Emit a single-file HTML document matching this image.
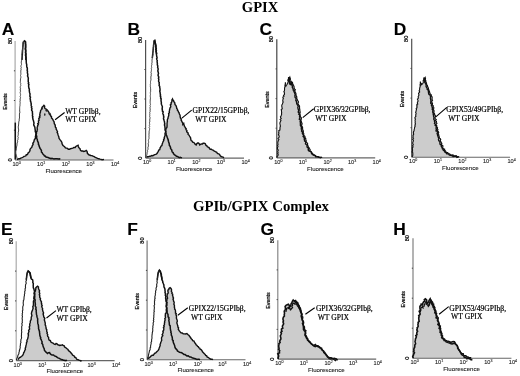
<!DOCTYPE html>
<html><head><meta charset="utf-8"><style>
html,body{margin:0;padding:0;background:#fff;width:520px;height:376px;overflow:hidden}
svg{display:block;will-change:transform;filter:blur(0.3px)}
.lt{font-family:"Liberation Sans",sans-serif;font-weight:bold;font-size:17.4px;fill:#000;stroke:#000;stroke-width:0.1px}
.ti{font-family:"Liberation Serif",serif;font-weight:bold;fill:#000}
.sm{font-family:"Liberation Sans",sans-serif;fill:#000;stroke:#000;stroke-width:0.2px}
.tk{font-family:"Liberation Sans",sans-serif;fill:#222;stroke:#222;stroke-width:0.1px}
.an{font-family:"Liberation Serif",serif;font-size:7.6px;fill:#000;stroke:#000;stroke-width:0.2px}
</style></head><body>
<svg width="520" height="376" viewBox="0 0 520 376">
<rect width="520" height="376" fill="#fff"/>
<text class="ti" x="241.8" y="12.2" font-size="14.6">GPIX</text>
<text class="ti" x="192.9" y="210.9" font-size="14.8">GPIb/GPIX Complex</text>

<text class="lt" x="1.8" y="34.8">A</text>
<polygon points="16.9,160.0 16.9,159.5 22.5,157.5 27.3,154.5 30.0,150.5 32.1,146.0 34.9,139.0 37.0,130.0 38.5,122.0 40.0,114.0 41.0,110.0 42.2,107.0 43.9,105.3 45.0,108.6 46.2,109.2 47.8,110.8 49.0,112.5 50.6,115.9 52.3,118.7 54.0,121.5 55.1,124.8 56.2,128.0 57.9,134.2 59.0,138.3 60.8,140.6 62.5,144.6 64.8,146.9 66.5,148.1 68.3,149.2 70.6,148.7 72.9,148.1 75.2,147.5 76.9,145.8 78.1,145.2 79.2,148.1 81.5,151.0 83.8,151.5 86.2,150.4 87.9,153.8 89.6,155.0 91.9,155.6 94.2,156.7 96.5,157.9 98.8,158.7 101.2,159.3 104.0,159.6 104.0,160.0" fill="#cccccc" stroke="none"/>
<line x1="15.1" y1="41.0" x2="15.1" y2="160.0" stroke="#aaa" stroke-width="1.2"/>
<line x1="15.1" y1="160.0" x2="113.5" y2="160.0" stroke="#666" stroke-width="1.1"/>
<line x1="13.9" y1="130.2" x2="15.1" y2="130.2" stroke="#444" stroke-width="1"/>
<line x1="13.9" y1="100.5" x2="15.1" y2="100.5" stroke="#444" stroke-width="1"/>
<line x1="13.9" y1="70.8" x2="15.1" y2="70.8" stroke="#444" stroke-width="1"/>
<polyline points="16.9,159.5 17.8,159.1 18.7,158.7 19.8,158.8 20.6,158.1 21.6,157.9 22.5,157.5 23.3,157.0 24.0,156.4 25.0,156.1 25.9,155.8 26.3,154.7 27.3,154.5 27.9,153.7 28.2,152.8 29.0,152.2 29.6,151.4 30.0,150.5 30.0,149.4 30.5,148.6 31.3,147.8 32.0,147.0 32.1,146.0 32.7,145.2 33.1,144.4 32.8,143.3 33.4,142.5 33.9,141.7 34.1,140.7 34.3,139.8 34.9,139.0 35.5,138.2 35.4,137.2 35.4,136.3 35.7,135.4 36.1,134.5 36.4,133.7 36.6,132.8 36.4,131.8 37.2,131.0 37.0,130.0 37.4,129.2 37.1,128.2 37.2,127.3 37.6,126.4 37.6,125.5 38.3,124.7 37.7,123.7 38.6,122.9 38.5,122.0 38.4,121.1 39.1,120.3 38.9,119.3 38.8,118.4 39.8,117.6 39.4,116.7 40.1,115.9 39.7,114.9 40.0,114.0 40.0,112.9 40.5,112.0 40.5,110.9 41.0,110.0 41.5,109.0 42.0,108.1 42.2,107.0 43.1,106.2 43.9,105.3 44.7,106.3 44.5,107.5 45.0,108.6 46.2,109.2 47.1,109.9 47.8,110.8 48.4,111.6 49.0,112.5 49.1,113.5 49.5,114.3 50.5,114.9 50.6,115.9 51.5,116.6 51.5,117.9 52.3,118.7 52.9,119.6 53.3,120.7 54.0,121.5 54.2,122.6 54.3,123.8 55.1,124.8 55.2,126.0 55.4,127.1 56.2,128.0 56.1,129.0 56.6,129.8 57.0,130.6 57.5,131.5 57.1,132.5 57.7,133.3 57.9,134.2 58.2,135.2 58.6,136.2 58.9,137.2 59.0,138.3 59.6,139.1 60.1,139.9 60.8,140.6 61.4,141.5 61.9,142.5 62.0,143.6 62.5,144.6 63.0,145.6 64.0,146.2 64.8,146.9 65.4,147.9 66.5,148.1 67.5,148.4 68.3,149.2 69.5,149.2 70.6,148.7 71.8,148.4 72.9,148.1 73.9,147.4 75.2,147.5 75.8,146.4 76.9,145.8 78.1,145.2 78.3,146.2 78.6,147.2 79.2,148.1 80.0,148.6 80.2,149.7 80.7,150.5 81.5,151.0 82.7,151.0 83.8,151.5 85.1,151.2 86.2,150.4 86.9,151.1 87.3,152.0 87.2,153.1 87.9,153.8 88.5,154.7 89.6,155.0 90.7,155.5 91.9,155.6 93.0,156.2 94.2,156.7 95.3,157.4 96.5,157.9 97.6,158.4 98.8,158.7 100.0,159.1 101.2,159.3 102.1,159.8 103.1,159.5 104.0,159.6" fill="none" stroke="#111" stroke-width="1.4" stroke-linejoin="miter" stroke-miterlimit="3"/>
<ellipse cx="46.6" cy="110.6" rx="1.3" ry="1.1" fill="#222"/>
<ellipse cx="44.8" cy="114.6" rx="0.7" ry="1.4" fill="#222"/>
<ellipse cx="50.0" cy="114.1" rx="0.8" ry="1.3" fill="#222"/>
<ellipse cx="42.0" cy="108.5" rx="0.8" ry="1.2" fill="#222"/>
<polyline points="15.3,122.6 15.3,159.5" fill="none" stroke="#111" stroke-width="1.5" stroke-linejoin="miter"/>
<polyline points="22.0,60.0 22.6,50.0 23.3,42.0 24.4,40.9 25.5,42.0 25.7,52.0 26.1,60.0" fill="none" stroke="#111" stroke-width="1.5" stroke-linejoin="miter"/>
<polyline points="17.5,159.0 16.8,158.1 16.9,156.9 16.2,156.0 16.4,155.0 15.8,154.0 15.8,153.0 15.7,152.0 15.8,151.0 16.2,150.0 16.3,149.0 16.3,148.0 16.6,147.0 16.7,146.0 17.1,145.0 16.9,144.0 17.2,143.0 17.5,142.1 17.7,141.2 17.5,140.3 18.0,139.4 18.0,138.5 18.3,137.6 17.8,136.6 18.1,135.7 18.2,134.8 18.4,133.9 18.1,132.9 18.4,132.0 18.5,131.0 18.7,130.0 18.5,129.0 18.3,128.0 18.3,127.0 18.3,126.0 18.7,125.0 18.5,124.0 18.9,123.0 18.6,122.0 19.2,121.0 19.2,120.0 19.2,119.0 19.5,118.0 19.5,117.0 19.4,116.0 19.5,115.0 19.4,114.0 19.7,113.0 20.0,112.0 19.5,111.0 19.8,110.0 19.6,109.1 19.7,108.2 19.7,107.3 19.8,106.4 20.0,105.5 20.0,104.5 20.1,103.6 20.2,102.7 19.9,101.8 20.2,100.9 20.2,100.0 20.1,99.1 20.4,98.2 20.5,97.3 20.1,96.4 20.5,95.5 20.6,94.6 20.4,93.6 20.1,92.7 20.5,91.8 20.3,90.9 20.6,90.0 20.1,89.1 20.6,88.2 20.2,87.3 20.4,86.4 20.8,85.5 20.6,84.5 20.8,83.6 20.3,82.7 20.4,81.8 20.3,80.9 20.6,80.0 20.4,79.1 20.7,78.2 20.9,77.3 20.8,76.4 20.5,75.5 20.8,74.6 20.9,73.7 20.8,72.8 20.8,71.9 20.8,71.0 20.9,70.1 21.2,69.2 20.9,68.3 21.3,67.4 20.9,66.5 21.0,65.6 21.5,64.7 21.5,63.8 21.2,62.9 21.4,62.0 21.4,61.1 21.7,60.2 21.8,59.3 21.6,58.4 22.0,57.5 22.1,56.6 22.1,55.6 21.8,54.7 22.0,53.8 22.2,52.9 22.2,52.0 22.3,51.0 22.3,50.0 22.8,49.0 22.5,48.0 22.7,47.0 22.9,46.0 23.2,45.0 22.9,44.0 23.0,43.0 23.3,42.0 24.4,40.8" fill="none" stroke="#444" stroke-width="1.0" stroke-linejoin="miter" stroke-miterlimit="3"/>
<polyline points="24.4,40.8 25.5,42.0 25.3,43.0 25.5,44.0 25.7,45.0 25.5,46.0 25.7,47.0 25.4,48.0 25.2,49.0 25.6,50.0 25.8,51.0 25.5,52.0 25.5,53.0 26.0,54.0 25.4,55.0 25.8,56.0 25.8,57.0 26.1,57.9 25.7,58.9 26.0,59.8 26.3,60.7 26.2,61.6 26.3,62.6 26.4,63.5 26.7,64.4 26.7,65.4 26.7,66.3 26.9,67.3 27.3,68.2 27.4,69.1 27.1,70.1 27.5,71.0 27.4,72.0 27.4,73.0 27.7,74.0 27.8,75.0 27.5,76.0 28.0,77.0 28.3,78.0 28.3,79.0 28.2,80.0 28.3,80.9 28.2,81.8 28.7,82.7 28.3,83.7 28.9,84.5 28.6,85.5 28.6,86.4 28.8,87.3 28.9,88.2 29.4,89.1 29.3,90.0 29.3,90.9 29.5,91.8 29.6,92.7 30.0,93.6 30.0,94.5 29.9,95.5 29.9,96.4 30.5,97.2 30.1,98.2 30.2,99.1 30.5,100.0 30.4,101.0 30.9,102.0 31.0,103.0 31.3,104.0 31.1,105.0 31.3,106.0 31.8,106.9 31.4,107.8 32.0,108.7 31.6,109.6 31.7,110.5 32.4,111.4 32.4,112.3 32.4,113.2 32.6,114.1 32.5,115.0 32.4,115.9 32.9,116.8 32.6,117.7 32.9,118.6 33.0,119.5 33.4,120.4 33.6,121.3 33.8,122.2 34.0,123.1 33.8,124.0 33.7,124.9 34.2,125.8 34.6,126.6 34.9,127.5 35.0,128.4 35.1,129.3 35.3,130.2 35.2,131.1 35.5,132.0 35.8,132.9 36.0,133.9 35.8,134.9 36.5,135.7 36.8,136.7 36.6,137.7 36.8,138.6 37.3,139.5 37.4,140.5 37.7,141.4 38.1,142.2 38.5,143.1 38.3,144.1 38.8,144.9 39.1,145.8 39.3,146.7 39.8,147.5 40.0,148.5 40.7,149.2 41.2,150.0 41.5,150.9 41.4,151.9 42.2,152.6 42.5,153.5 43.1,154.3 43.9,154.9 44.4,155.8 45.4,156.2 46.0,157.0 47.0,157.2 48.1,157.4 49.0,158.0 50.0,158.3 51.0,158.7 52.0,158.2 53.0,158.6 54.0,159.0 55.0,158.8 56.1,158.8 57.1,158.8 58.2,159.0 59.3,158.8 60.3,159.2" fill="none" stroke="#111" stroke-width="1.5" stroke-linejoin="miter" stroke-miterlimit="3"/>
<text class="sm" font-size="5.6" transform="translate(11.5 41.0) rotate(-90)" text-anchor="middle">80</text>
<text class="sm" font-size="5.6" transform="translate(11.5 160.0) rotate(-90)" text-anchor="middle">0</text>
<text class="sm" font-size="5.4" transform="translate(6.9 101.5) rotate(-90)" text-anchor="middle">Events</text>
<text class="tk" font-size="5.6" x="12.5" y="166.0">10<tspan font-size="3.6" dy="-2">0</tspan></text>
<text class="tk" font-size="5.6" x="37.1" y="166.0">10<tspan font-size="3.6" dy="-2">1</tspan></text>
<text class="tk" font-size="5.6" x="61.7" y="166.0">10<tspan font-size="3.6" dy="-2">2</tspan></text>
<text class="tk" font-size="5.6" x="86.3" y="166.0">10<tspan font-size="3.6" dy="-2">3</tspan></text>
<text class="tk" font-size="5.6" x="110.9" y="166.0">10<tspan font-size="3.6" dy="-2">4</tspan></text>
<text class="tk" font-size="6.1" x="63.7" y="172.6" text-anchor="middle">Fluorescence</text>
<text class="an" x="65.2" y="113.6">WT GPIb&#946;,</text>
<text class="an" x="65.2" y="122.2">WT GPIX</text>
<line x1="55.1" y1="119.8" x2="64.6" y2="112.5" stroke="#000" stroke-width="1.1"/>
<text class="lt" x="127.4" y="34.8">B</text>
<polygon points="146.5,158.1 146.5,157.5 150.0,156.3 153.8,155.2 157.3,153.0 160.0,148.7 162.1,144.6 164.2,137.7 165.6,132.1 167.0,124.0 168.4,116.5 169.8,109.0 171.0,103.0 172.5,99.0 173.5,100.5 174.8,103.9 176.6,107.5 178.4,111.9 180.1,116.4 181.9,121.7 182.8,124.4 183.7,123.5 185.5,128.0 187.3,132.4 189.1,135.1 190.8,139.5 192.6,142.2 194.4,143.1 196.2,144.9 198.0,142.8 199.7,144.9 202.4,144.0 204.2,143.1 206.9,145.8 209.5,148.5 213.1,150.2 215.8,152.0 218.5,153.8 221.1,156.5 223.8,158.0 223.8,158.1" fill="#cccccc" stroke="none"/>
<line x1="145.6" y1="40.0" x2="145.6" y2="158.1" stroke="#505050" stroke-width="1.2"/>
<line x1="145.6" y1="158.1" x2="244.0" y2="158.1" stroke="#666" stroke-width="1.1"/>
<line x1="144.4" y1="128.6" x2="145.6" y2="128.6" stroke="#444" stroke-width="1"/>
<line x1="144.4" y1="99.0" x2="145.6" y2="99.0" stroke="#444" stroke-width="1"/>
<line x1="144.4" y1="69.5" x2="145.6" y2="69.5" stroke="#444" stroke-width="1"/>
<polyline points="146.5,157.5 147.2,156.8 148.2,156.8 149.1,156.4 150.0,156.3 150.9,156.0 151.8,155.5 152.9,155.8 153.8,155.2 154.7,154.7 155.7,154.3 156.6,153.9 157.3,153.0 157.8,152.1 158.4,151.3 158.6,150.2 159.7,149.7 160.0,148.7 160.1,147.7 160.7,147.0 161.0,146.1 161.9,145.5 162.1,144.6 162.3,143.7 162.6,142.9 162.9,142.0 163.4,141.2 163.8,140.4 163.6,139.4 164.3,138.7 164.2,137.7 164.6,136.8 164.8,135.9 165.3,135.0 164.9,133.9 165.2,133.0 165.6,132.1 165.7,131.2 165.7,130.3 165.9,129.4 166.0,128.5 166.8,127.7 167.0,126.8 167.0,125.9 167.1,124.9 167.0,124.0 167.1,123.0 167.2,122.1 167.4,121.2 167.3,120.2 167.5,119.2 168.0,118.4 168.1,117.4 168.4,116.5 168.7,115.6 168.8,114.6 168.6,113.6 169.4,112.8 169.2,111.8 169.4,110.9 169.5,109.9 169.8,109.0 169.9,108.0 170.6,107.1 170.8,106.1 170.3,104.9 171.2,104.1 171.0,103.0 171.6,102.1 172.0,101.1 171.9,99.9 172.5,99.0 172.7,99.9 173.5,100.5 173.8,101.4 174.2,102.2 174.9,102.9 174.8,103.9 175.2,104.8 176.0,105.6 176.3,106.5 176.6,107.5 176.7,108.5 177.5,109.2 177.4,110.2 178.2,111.0 178.4,111.9 179.1,112.7 179.2,113.7 179.7,114.5 180.1,115.4 180.1,116.4 180.3,117.3 180.5,118.2 181.3,119.0 181.1,120.0 181.6,120.8 181.9,121.7 182.5,122.5 182.8,123.4 182.8,124.4 183.7,123.5 183.9,124.5 184.1,125.4 184.5,126.3 185.1,127.1 185.5,128.0 186.2,128.7 186.0,129.8 186.9,130.5 186.7,131.6 187.3,132.4 188.2,133.1 188.1,134.4 189.1,135.1 189.5,136.0 190.0,136.8 190.5,137.6 190.7,138.5 190.8,139.5 191.2,140.5 192.2,141.2 192.6,142.2 193.7,142.3 194.4,143.1 195.1,144.2 196.2,144.9 196.6,144.0 197.2,143.3 198.0,142.8 198.8,143.3 199.4,144.0 199.7,144.9 200.5,144.4 201.4,143.9 202.4,144.0 203.1,143.2 204.2,143.1 205.1,143.5 205.6,144.4 206.0,145.4 206.9,145.8 207.3,146.7 208.2,147.2 209.1,147.6 209.5,148.5 210.2,149.3 211.4,149.2 212.2,149.8 213.1,150.2 214.0,150.8 214.9,151.3 215.8,152.0 216.8,152.4 217.4,153.5 218.5,153.8 219.4,154.2 219.9,155.1 220.3,155.9 221.1,156.5 222.1,156.8 223.1,157.1 223.8,158.0" fill="none" stroke="#111" stroke-width="1.4" stroke-linejoin="miter" stroke-miterlimit="3"/>
<polyline points="152.3,58.0 153.2,49.6 154.0,41.0 154.8,40.4 155.7,45.0 156.4,54.0" fill="none" stroke="#111" stroke-width="1.5" stroke-linejoin="miter"/>
<polyline points="146.0,158.0 146.1,156.8 146.6,155.6 146.9,154.6 147.1,153.5 147.2,152.5 147.6,151.5 147.4,150.6 147.9,149.7 148.1,148.8 147.8,147.8 148.2,146.9 148.4,146.0 148.4,145.1 148.3,144.1 148.2,143.2 148.7,142.3 148.6,141.4 148.4,140.4 148.6,139.5 149.0,138.6 149.0,137.7 148.9,136.8 149.1,135.8 148.9,134.9 149.1,134.0 149.0,133.0 149.2,132.1 149.1,131.2 149.4,130.3 149.6,129.3 149.6,128.4 149.1,127.4 149.7,126.5 149.3,125.6 149.7,124.7 149.6,123.7 149.4,122.8 149.8,121.9 149.8,120.9 149.7,120.0 149.8,119.1 150.0,118.2 150.0,117.3 149.6,116.4 149.8,115.5 149.7,114.5 149.9,113.6 149.6,112.7 150.2,111.8 149.9,110.9 150.3,110.0 150.1,109.1 150.1,108.2 150.0,107.3 150.4,106.4 150.0,105.5 150.5,104.6 150.3,103.6 150.2,102.7 150.2,101.8 150.2,100.9 150.3,100.0 150.3,99.1 150.5,98.2 150.4,97.3 150.3,96.4 150.3,95.4 150.5,94.5 150.4,93.6 150.3,92.7 150.6,91.8 150.6,90.9 150.6,90.0 150.7,89.1 150.5,88.2 150.5,87.2 150.3,86.3 150.4,85.4 150.3,84.5 150.6,83.6 150.5,82.6 150.5,81.7 150.7,80.8 151.0,79.8 150.9,78.9 150.9,77.9 150.8,77.0 151.1,76.0 151.3,75.1 151.1,74.2 151.4,73.2 150.9,72.3 151.3,71.3 151.4,70.4 151.5,69.4 151.3,68.5 151.7,67.6 151.5,66.6 151.5,65.7 151.9,64.7 151.7,63.8 152.0,62.8 152.1,61.9 152.0,60.9 152.0,60.0 152.2,59.0 152.3,58.1 152.3,57.1 152.7,56.2 152.8,55.3 153.0,54.3 152.7,53.4 152.8,52.4 153.1,51.5 153.4,50.6 153.2,49.6 153.3,48.6 153.2,47.7 153.7,46.8 153.4,45.8 153.6,44.8 153.9,43.9 153.6,42.9 153.9,42.0 154.0,41.0 154.8,40.3" fill="none" stroke="#444" stroke-width="1.0" stroke-linejoin="miter" stroke-miterlimit="3"/>
<polyline points="154.8,40.3 154.7,41.3 155.1,42.2 155.2,43.1 155.6,44.1 155.7,45.0 156.0,45.9 155.9,46.8 155.9,47.8 156.3,48.6 155.7,49.6 156.4,50.5 156.0,51.4 156.3,52.3 156.7,53.2 156.4,54.2 156.6,55.1 156.6,56.0 156.9,56.9 157.1,57.8 156.6,58.8 156.9,59.7 157.3,60.6 157.1,61.6 157.2,62.5 157.4,63.5 157.3,64.4 157.5,65.3 157.8,66.3 157.6,67.2 157.9,68.1 158.2,69.0 158.0,70.0 157.8,70.9 158.1,71.8 158.3,72.7 158.5,73.6 158.1,74.6 158.1,75.5 158.5,76.3 158.8,77.2 158.4,78.2 158.8,79.1 158.7,80.0 158.6,80.9 158.7,81.8 159.3,82.7 159.1,83.6 159.3,84.5 159.1,85.5 159.7,86.4 159.7,87.3 159.9,88.2 160.0,89.2 160.1,90.1 159.7,91.1 160.0,92.0 160.2,93.0 160.2,94.0 160.6,95.0 160.2,96.0 160.8,97.0 160.6,98.0 161.2,99.0 161.0,100.0 161.1,100.9 161.2,101.8 161.4,102.7 161.3,103.6 161.5,104.5 161.8,105.3 162.3,106.2 162.3,107.1 162.3,108.0 162.1,109.0 162.4,110.0 162.4,111.1 163.2,111.9 162.8,113.0 163.0,114.0 163.5,115.0 163.5,116.0 163.9,117.0 163.5,118.0 163.6,119.0 164.0,120.0 164.2,121.0 164.6,122.0 164.5,123.0 164.9,123.9 164.4,124.9 164.8,125.8 164.9,126.8 165.0,127.7 165.1,128.7 165.0,129.7 165.3,130.6 165.8,131.4 165.7,132.4 166.1,133.3 166.1,134.2 166.4,135.1 166.8,136.0 167.1,136.9 167.4,137.8 167.8,138.7 168.0,139.6 168.3,140.5 168.5,141.5 168.8,142.4 169.1,143.3 169.3,144.2 169.3,145.2 169.9,146.0 170.3,146.8 170.6,147.7 170.6,148.7 171.5,149.4 171.8,150.3 172.0,151.2 172.3,152.1 173.1,152.6 173.4,153.5 174.0,154.2 174.5,155.0 175.6,155.4 176.4,156.2 177.6,156.4 178.4,157.2 179.3,157.6 180.2,157.3 181.1,157.6 182.0,157.9" fill="none" stroke="#111" stroke-width="1.5" stroke-linejoin="miter" stroke-miterlimit="3"/>
<text class="sm" font-size="5.6" transform="translate(142.0 40.0) rotate(-90)" text-anchor="middle">80</text>
<text class="sm" font-size="5.6" transform="translate(142.0 158.1) rotate(-90)" text-anchor="middle">0</text>
<text class="sm" font-size="5.4" transform="translate(137.4 100.0) rotate(-90)" text-anchor="middle">Events</text>
<text class="tk" font-size="5.6" x="143.0" y="164.1">10<tspan font-size="3.6" dy="-2">0</tspan></text>
<text class="tk" font-size="5.6" x="167.6" y="164.1">10<tspan font-size="3.6" dy="-2">1</tspan></text>
<text class="tk" font-size="5.6" x="192.2" y="164.1">10<tspan font-size="3.6" dy="-2">2</tspan></text>
<text class="tk" font-size="5.6" x="216.8" y="164.1">10<tspan font-size="3.6" dy="-2">3</tspan></text>
<text class="tk" font-size="5.6" x="241.4" y="164.1">10<tspan font-size="3.6" dy="-2">4</tspan></text>
<text class="tk" font-size="6.1" x="194.2" y="170.7" text-anchor="middle">Fluorescence</text>
<text class="an" x="192.6" y="113.0">GPIX22/15GPIb&#946;,</text>
<text class="an" x="195.3" y="121.6">WT GPIX</text>
<line x1="181.9" y1="118.2" x2="191.7" y2="110.1" stroke="#000" stroke-width="1.1"/>
<text class="lt" x="259.6" y="34.8">C</text>
<polygon points="277.5,157.9 277.5,157.5 278.0,146.3 278.9,133.8 280.1,125.0 281.1,116.0 282.0,107.0 283.0,99.0 284.4,91.0 285.0,86.0 285.4,82.4 286.0,86.0 287.0,84.5 288.0,82.0 288.6,77.2 289.2,82.0 290.5,84.5 291.4,82.0 292.1,85.5 293.2,89.0 294.7,93.4 296.1,99.3 297.6,105.1 298.6,111.0 299.5,117.0 300.1,121.2 301.4,127.5 302.6,133.8 304.5,140.0 307.0,146.2 309.5,151.2 313.2,155.0 317.0,156.9 321.0,157.5 321.0,157.9" fill="#cccccc" stroke="none"/>
<line x1="276.8" y1="39.2" x2="276.8" y2="157.9" stroke="#454545" stroke-width="1.2"/>
<line x1="276.8" y1="157.9" x2="375.2" y2="157.9" stroke="#666" stroke-width="1.1"/>
<line x1="275.6" y1="128.2" x2="276.8" y2="128.2" stroke="#444" stroke-width="1"/>
<line x1="275.6" y1="98.6" x2="276.8" y2="98.6" stroke="#444" stroke-width="1"/>
<line x1="275.6" y1="68.9" x2="276.8" y2="68.9" stroke="#444" stroke-width="1"/>
<polyline points="277.5,157.5 277.0,156.5 277.9,155.6 278.2,154.7 277.6,153.8 278.2,152.9 277.7,151.9 277.9,151.0 278.3,150.1 277.5,149.1 277.4,148.1 277.6,147.2 278.0,146.3 277.5,145.3 278.1,144.4 277.8,143.4 277.8,142.4 278.1,141.5 278.3,140.5 278.9,139.6 278.0,138.6 278.8,137.7 279.2,136.7 279.0,135.7 278.4,134.7 278.9,133.8 278.6,132.8 279.0,131.8 278.7,130.8 280.0,130.0 279.9,129.0 280.1,128.0 280.0,127.0 280.5,126.1 280.1,125.0 280.1,124.1 279.8,123.1 280.2,122.3 280.4,121.4 281.0,120.5 280.1,119.5 281.2,118.7 280.7,117.8 280.4,116.8 281.1,116.0 281.3,115.1 281.7,114.2 281.5,113.3 281.7,112.4 281.5,111.5 281.5,110.6 281.2,109.6 282.3,108.8 282.0,107.9 282.0,107.0 281.7,105.9 281.9,105.0 282.4,104.0 282.7,103.0 283.2,102.1 282.7,101.0 282.9,100.0 283.0,99.0 283.4,98.2 282.8,97.1 284.0,96.4 283.5,95.4 284.4,94.7 284.4,93.7 284.5,92.8 283.8,91.8 284.4,91.0 284.5,90.0 284.6,89.0 284.5,88.0 284.9,87.0 285.0,86.0 284.9,85.1 285.3,84.2 285.6,83.3 285.4,82.4 285.3,83.3 285.3,84.3 285.5,85.2 286.0,86.0 286.4,85.2 287.0,84.5 287.7,83.3 288.0,82.0 288.4,81.1 287.7,80.0 288.6,79.1 288.4,78.2 288.6,77.2" fill="none" stroke="#111" stroke-width="1.1" stroke-linejoin="miter" stroke-miterlimit="3"/>
<polyline points="288.6,77.2 289.1,78.1 289.1,79.1 288.6,80.1 288.9,81.1 289.2,82.0 289.6,82.9 289.6,83.9 290.5,84.5 291.1,83.3 291.4,82.0 292.2,83.1 291.7,84.4 292.1,85.5 292.4,86.4 292.3,87.4 292.8,88.2 293.2,89.0 293.2,90.0 294.3,90.6 293.9,91.7 294.7,92.4 294.7,93.4 295.3,94.3 294.9,95.4 295.0,96.4 295.1,97.5 296.0,98.3 296.1,99.3 295.8,100.4 296.4,101.3 296.6,102.3 296.7,103.3 297.0,104.2 297.6,105.1 298.3,106.0 297.8,107.1 298.0,108.1 298.1,109.1 298.6,110.0 298.6,111.0 298.2,112.1 299.3,112.9 298.7,114.1 299.6,114.9 299.8,115.9 299.5,117.0 300.1,118.0 299.3,119.2 300.5,120.1 300.1,121.2 300.5,122.1 300.2,123.1 300.9,123.9 300.3,124.9 300.6,125.8 301.3,126.6 301.4,127.5 301.3,128.4 301.4,129.4 301.7,130.2 301.6,131.2 302.5,131.9 302.3,132.9 302.6,133.8 303.2,134.6 303.7,135.4 303.1,136.5 303.9,137.3 304.5,138.0 304.2,139.1 304.5,140.0 304.6,141.0 305.7,141.6 305.8,142.6 305.5,143.7 306.2,144.5 307.1,145.2 307.0,146.2 307.1,147.2 308.1,147.8 308.4,148.7 308.2,149.8 308.6,150.7 309.5,151.2 310.6,151.6 311.4,152.4 311.6,153.7 312.6,154.2 313.2,155.0 314.3,155.2 315.2,155.8 315.8,156.9 317.0,156.9 318.1,156.7 319.0,157.3 320.0,157.4 321.0,157.5" fill="none" stroke="#111" stroke-width="1.4" stroke-linejoin="miter" stroke-miterlimit="3"/>
<polyline points="289.2,82.0 289.0,81.0 289.0,80.0 289.4,79.1 289.3,78.1 289.8,77.2 290.0,78.1 290.5,79.1 290.1,80.1 290.2,81.0 290.4,82.0 291.0,82.7 290.9,83.8 291.7,84.5 291.6,83.1 292.6,82.0 292.3,83.3 293.1,84.3 293.3,85.5 294.0,86.3 294.0,87.2 294.2,88.1 294.4,89.0 295.3,89.7 294.8,90.8 295.1,91.7 295.5,92.6 295.9,93.4 296.0,94.4 295.9,95.5 296.6,96.3 296.8,97.3 296.6,98.4 297.3,99.3 297.1,100.4 298.2,101.1 298.5,102.1 297.8,103.3 298.4,104.2 298.8,105.1 299.5,106.0 299.5,107.0 299.5,108.0 299.6,109.0 299.9,110.0 299.8,111.0 300.2,112.0 300.0,113.0 299.8,114.1 300.2,115.0 300.0,116.1 300.7,117.0 301.4,118.0 301.3,119.1 300.7,120.3 301.3,121.2 301.4,122.2 301.9,123.0 302.1,123.9 301.6,124.9 301.6,125.8 302.2,126.6 302.6,127.5 302.5,128.5 302.7,129.3 302.8,130.2 303.4,131.1 303.1,132.0 303.5,132.9 303.8,133.8 303.6,134.8 303.9,135.7 304.9,136.4 304.9,137.3 305.3,138.2 305.9,139.0 305.7,140.0 306.3,140.8 305.9,142.0 306.9,142.6 307.6,143.4 307.5,144.4 307.7,145.4 308.2,146.2 308.3,147.3 309.2,147.8 309.3,148.8 310.1,149.5 309.8,150.7 310.7,151.2 311.5,152.0 311.9,153.0 312.6,153.8 313.5,154.4 314.4,155.0 315.4,155.4 316.2,156.2 317.2,156.5 318.2,156.9 319.2,157.3 320.1,157.8 321.2,157.2 322.2,157.5" fill="none" stroke="#111" stroke-width="1.2" stroke-linejoin="miter" stroke-miterlimit="3"/>
<text class="sm" font-size="5.6" transform="translate(273.2 39.2) rotate(-90)" text-anchor="middle">80</text>
<text class="sm" font-size="5.6" transform="translate(273.2 157.9) rotate(-90)" text-anchor="middle">0</text>
<text class="sm" font-size="5.4" transform="translate(268.6 99.6) rotate(-90)" text-anchor="middle">Events</text>
<text class="tk" font-size="5.6" x="274.2" y="163.9">10<tspan font-size="3.6" dy="-2">0</tspan></text>
<text class="tk" font-size="5.6" x="298.8" y="163.9">10<tspan font-size="3.6" dy="-2">1</tspan></text>
<text class="tk" font-size="5.6" x="323.4" y="163.9">10<tspan font-size="3.6" dy="-2">2</tspan></text>
<text class="tk" font-size="5.6" x="348.0" y="163.9">10<tspan font-size="3.6" dy="-2">3</tspan></text>
<text class="tk" font-size="5.6" x="372.6" y="163.9">10<tspan font-size="3.6" dy="-2">4</tspan></text>
<text class="tk" font-size="6.1" x="325.4" y="170.5" text-anchor="middle">Fluorescence</text>
<text class="an" x="313.7" y="112.4">GPIX36/32GPIb&#946;,</text>
<text class="an" x="315.2" y="121.0">WT GPIX</text>
<line x1="302.7" y1="117.6" x2="313.7" y2="108.8" stroke="#000" stroke-width="1.1"/>
<text class="lt" x="393.8" y="35.0">D</text>
<polygon points="412.3,157.3 412.3,156.9 412.5,150.0 412.8,143.8 413.6,133.8 414.9,125.0 415.3,117.0 416.5,109.5 417.5,102.2 418.2,96.3 419.6,90.0 420.2,84.0 420.4,81.5 421.2,85.0 422.5,84.0 423.4,82.0 424.0,77.6 424.6,82.0 425.3,83.0 426.2,85.5 427.2,88.4 428.5,92.5 430.0,94.9 430.7,99.3 431.4,105.1 432.9,111.0 433.5,115.0 434.9,122.5 436.1,128.8 438.0,136.2 439.9,142.5 442.4,148.8 445.5,152.5 449.2,155.0 454.2,156.2 458.0,156.9 458.0,157.3" fill="#cccccc" stroke="none"/>
<line x1="411.7" y1="38.8" x2="411.7" y2="157.3" stroke="#505050" stroke-width="1.2"/>
<line x1="411.7" y1="157.3" x2="510.1" y2="157.3" stroke="#666" stroke-width="1.1"/>
<line x1="410.5" y1="127.7" x2="411.7" y2="127.7" stroke="#444" stroke-width="1"/>
<line x1="410.5" y1="98.1" x2="411.7" y2="98.1" stroke="#444" stroke-width="1"/>
<line x1="410.5" y1="68.4" x2="411.7" y2="68.4" stroke="#444" stroke-width="1"/>
<polyline points="412.3,156.9 412.6,155.9 412.9,154.9 412.7,154.0 412.9,153.0 412.0,152.0 412.6,151.0 412.5,150.0 412.5,149.0 412.3,147.9 413.1,146.9 412.5,145.8 413.3,144.8 412.8,143.8 412.7,142.8 413.0,141.9 413.3,141.1 413.4,140.1 412.6,139.2 413.5,138.3 412.8,137.3 413.2,136.5 413.0,135.5 413.6,134.7 413.6,133.8 413.4,132.7 413.5,131.8 414.1,130.8 414.1,129.8 414.4,128.9 414.5,127.9 414.8,127.0 415.2,126.0 414.9,125.0 415.5,124.0 415.1,123.0 415.2,122.0 415.2,121.0 415.0,120.0 415.5,119.0 414.8,118.0 415.3,117.0 416.0,116.1 415.6,115.1 416.0,114.2 416.1,113.3 415.6,112.2 416.1,111.4 416.2,110.4 416.5,109.5 416.2,108.5 417.0,107.7 416.8,106.7 417.2,105.9 416.6,104.9 417.8,104.1 417.3,103.1 417.5,102.2 418.0,101.3 418.0,100.3 417.4,99.2 418.3,98.3 418.3,97.3 418.2,96.3 418.8,95.5 418.9,94.6 418.5,93.5 419.1,92.7 419.7,91.9 419.1,90.8 419.6,90.0 419.6,89.0 419.7,88.0 420.0,87.0 420.3,86.0 420.0,85.0 420.2,84.0 420.5,82.8 420.4,81.5 420.3,82.8 421.5,83.7 421.2,85.0 422.5,84.0 423.0,83.0 423.4,82.0 423.1,80.8 424.1,79.9 423.9,78.7 424.0,77.6" fill="none" stroke="#111" stroke-width="1.1" stroke-linejoin="miter" stroke-miterlimit="3"/>
<polyline points="424.0,77.6 424.4,78.7 423.9,79.8 424.8,80.9 424.6,82.0 425.3,83.0 425.9,84.2 426.2,85.5 426.1,86.6 426.7,87.5 427.2,88.4 427.2,89.5 428.3,90.3 428.4,91.4 428.5,92.5 428.7,93.5 429.0,94.4 430.0,94.9 430.4,96.0 430.6,97.1 430.4,98.2 430.7,99.3 430.9,100.3 430.9,101.2 430.8,102.2 430.7,103.2 431.8,104.1 431.4,105.1 431.9,106.0 432.0,107.0 432.6,107.9 432.1,109.1 433.0,109.9 432.9,111.0 432.7,112.1 433.4,113.0 433.1,114.0 433.5,115.0 433.5,116.0 433.9,116.9 434.0,117.8 433.8,118.8 433.9,119.8 434.7,120.6 434.5,121.6 434.9,122.5 434.5,123.5 435.5,124.2 435.1,125.2 436.2,126.0 436.1,126.9 436.2,127.8 436.1,128.8 436.5,129.6 436.0,130.8 437.3,131.4 437.6,132.4 437.1,133.5 437.5,134.4 437.6,135.3 438.0,136.2 438.2,137.2 438.9,137.9 438.5,139.0 438.6,140.0 438.8,140.9 439.9,141.5 439.9,142.5 439.9,143.5 440.2,144.5 441.4,145.0 441.2,146.1 441.7,147.0 442.2,147.8 442.4,148.8 443.2,149.4 443.4,150.4 444.6,150.8 444.8,151.8 445.5,152.5 446.5,152.7 446.8,153.8 447.8,153.9 448.8,154.1 449.2,155.0 450.3,155.2 451.3,155.3 452.3,155.7 453.1,156.5 454.2,156.2 455.3,156.0 456.2,156.2 457.0,157.3 458.0,156.9" fill="none" stroke="#111" stroke-width="1.4" stroke-linejoin="miter" stroke-miterlimit="3"/>
<polyline points="424.6,82.0 425.0,80.9 424.5,79.7 424.6,78.6 425.2,77.6 425.5,78.7 425.2,79.8 425.9,80.9 425.8,82.0 426.5,83.0 426.5,84.4 427.4,85.5 427.6,86.5 428.1,87.4 428.4,88.4 428.6,89.5 429.0,90.5 429.4,91.5 429.7,92.5 429.9,93.5 430.5,94.2 431.2,94.9 431.4,96.0 432.1,97.0 432.1,98.1 431.9,99.3 432.5,100.2 431.7,101.3 431.7,102.3 432.5,103.1 432.2,104.2 432.6,105.1 433.4,106.0 432.7,107.2 433.9,107.9 433.2,109.1 433.7,110.1 434.1,111.0 433.8,112.1 434.1,113.0 434.6,114.0 434.7,115.0 435.4,115.8 435.4,116.8 434.8,117.9 435.2,118.8 436.2,119.6 435.4,120.7 436.4,121.5 436.1,122.5 436.9,123.3 436.0,124.4 436.1,125.3 436.9,126.0 436.6,127.0 437.5,127.8 437.3,128.8 437.9,129.6 437.4,130.7 438.3,131.5 438.7,132.4 438.1,133.5 438.7,134.4 438.6,135.4 439.2,136.2 439.1,137.3 439.6,138.1 440.4,138.8 440.7,139.7 440.1,140.8 440.8,141.6 441.1,142.5 441.8,143.3 441.5,144.4 441.8,145.3 442.9,145.9 442.8,147.0 442.7,148.1 443.6,148.8 444.6,149.2 444.6,150.4 445.5,150.9 445.9,151.9 446.7,152.5 447.7,152.6 448.2,153.5 449.1,153.7 450.0,154.1 450.4,155.0 451.4,155.6 452.6,155.0 453.6,155.3 454.3,156.4 455.4,156.2 456.5,156.0 457.2,157.1 458.3,156.7 459.2,156.9" fill="none" stroke="#111" stroke-width="1.2" stroke-linejoin="miter" stroke-miterlimit="3"/>
<text class="sm" font-size="5.6" transform="translate(408.1 38.8) rotate(-90)" text-anchor="middle">80</text>
<text class="sm" font-size="5.6" transform="translate(408.1 157.3) rotate(-90)" text-anchor="middle">0</text>
<text class="sm" font-size="5.4" transform="translate(403.5 99.1) rotate(-90)" text-anchor="middle">Events</text>
<text class="tk" font-size="5.6" x="409.1" y="163.3">10<tspan font-size="3.6" dy="-2">0</tspan></text>
<text class="tk" font-size="5.6" x="433.7" y="163.3">10<tspan font-size="3.6" dy="-2">1</tspan></text>
<text class="tk" font-size="5.6" x="458.3" y="163.3">10<tspan font-size="3.6" dy="-2">2</tspan></text>
<text class="tk" font-size="5.6" x="482.9" y="163.3">10<tspan font-size="3.6" dy="-2">3</tspan></text>
<text class="tk" font-size="5.6" x="507.5" y="163.3">10<tspan font-size="3.6" dy="-2">4</tspan></text>
<text class="tk" font-size="6.1" x="460.3" y="169.9" text-anchor="middle">Fluorescence</text>
<text class="an" x="446.3" y="111.9">GPIX53/49GPIb&#946;,</text>
<text class="an" x="448.2" y="120.5">WT GPIX</text>
<line x1="435.8" y1="116.8" x2="446.8" y2="107.3" stroke="#000" stroke-width="1.1"/>
<text class="lt" x="1.0" y="234.8">E</text>
<polygon points="17.7,360.6 17.7,359.5 22.0,356.0 24.9,350.2 27.1,341.6 28.5,333.0 29.9,325.8 31.2,317.5 32.5,310.0 33.2,306.0 34.0,297.2 35.4,289.9 36.5,287.0 37.6,286.2 38.5,287.0 39.1,289.9 39.8,295.7 41.3,303.0 42.7,310.2 44.2,317.5 45.3,323.0 46.8,331.7 48.7,339.1 51.4,342.5 54.2,344.2 56.9,343.7 59.7,345.5 62.5,344.8 65.2,347.4 68.0,349.5 70.7,352.5 73.5,355.6 76.2,358.4 79.0,360.2 81.7,360.6 81.7,360.6" fill="#cccccc" stroke="none"/>
<line x1="16.2" y1="241.2" x2="16.2" y2="360.6" stroke="#aaa" stroke-width="1.2"/>
<line x1="16.2" y1="360.6" x2="114.6" y2="360.6" stroke="#666" stroke-width="1.1"/>
<line x1="15.0" y1="330.8" x2="16.2" y2="330.8" stroke="#444" stroke-width="1"/>
<line x1="15.0" y1="300.9" x2="16.2" y2="300.9" stroke="#444" stroke-width="1"/>
<line x1="15.0" y1="271.1" x2="16.2" y2="271.1" stroke="#444" stroke-width="1"/>
<polyline points="17.7,359.5 18.5,359.0 18.9,358.1 19.7,357.5 20.6,357.2 21.2,356.5 22.0,356.0 22.7,355.3 23.1,354.5 23.5,353.7 23.6,352.7 24.3,352.0 24.5,351.1 24.9,350.2 25.4,349.3 25.2,348.2 25.7,347.3 25.8,346.4 26.0,345.4 26.3,344.4 26.5,343.5 26.5,342.5 27.1,341.6 26.9,340.6 27.2,339.7 27.7,338.8 27.9,337.8 28.1,336.9 28.2,335.9 28.5,335.0 28.0,333.9 28.5,333.0 28.6,332.1 29.0,331.2 28.6,330.2 29.5,329.5 29.6,328.5 29.4,327.6 29.3,326.6 29.9,325.8 29.7,324.8 29.8,323.9 30.1,323.0 30.3,322.1 30.3,321.1 30.7,320.3 31.2,319.4 31.2,318.5 31.2,317.5 31.5,316.6 31.9,315.7 31.7,314.7 31.4,313.7 31.6,312.7 31.8,311.8 32.2,310.9 32.5,310.0 32.8,309.0 33.2,308.1 32.7,306.9 33.2,306.0 33.3,305.0 33.5,304.1 33.4,303.1 33.4,302.1 33.4,301.1 34.0,300.2 34.2,299.2 33.7,298.2 34.0,297.2 34.0,296.2 34.3,295.4 34.5,294.4 34.8,293.6 34.5,292.6 34.9,291.7 35.5,290.9 35.4,289.9 35.8,289.0 35.8,287.8 36.5,287.0 37.6,286.2 38.5,287.0 38.4,288.0 38.7,289.0 39.1,289.9 39.6,290.8 39.2,291.9 39.5,292.8 39.8,293.7 39.3,294.8 39.8,295.7 39.7,296.7 39.8,297.6 40.5,298.4 40.2,299.4 40.6,300.3 41.0,301.2 41.5,302.0 41.3,303.0 41.8,303.8 41.6,304.8 42.2,305.6 41.7,306.7 42.1,307.5 42.6,308.3 42.4,309.3 42.7,310.2 42.8,311.1 43.2,312.0 43.6,312.9 43.1,313.9 43.3,314.8 43.6,315.7 43.7,316.7 44.2,317.5 44.8,318.3 44.4,319.4 44.4,320.3 44.8,321.2 44.9,322.1 45.3,323.0 45.2,324.0 45.2,325.0 45.8,325.9 45.9,326.9 46.1,327.8 46.1,328.8 46.8,329.7 46.7,330.7 46.8,331.7 47.3,332.6 47.0,333.6 47.7,334.4 47.5,335.5 47.7,336.4 48.6,337.2 48.6,338.1 48.7,339.1 49.2,340.1 50.4,340.6 50.6,341.7 51.4,342.5 52.4,342.9 53.4,343.3 54.2,344.2 55.2,344.4 56.0,343.6 56.9,343.7 57.6,344.6 58.7,345.0 59.7,345.5 60.6,345.3 61.6,345.1 62.5,344.8 63.1,345.5 64.2,345.8 64.5,346.8 65.2,347.4 66.2,348.0 67.0,348.8 68.0,349.5 68.4,350.5 69.2,351.1 70.0,351.7 70.7,352.5 71.3,353.4 72.1,354.1 72.5,355.1 73.5,355.6 74.4,356.1 74.7,357.1 75.8,357.5 76.2,358.4 76.9,359.3 78.0,359.7 79.0,360.2 79.9,360.4 80.7,360.9 81.7,360.6" fill="none" stroke="#111" stroke-width="1.4" stroke-linejoin="miter" stroke-miterlimit="3"/>
<polyline points="26.3,280.0 26.8,275.0 27.5,272.0 28.1,270.9 29.2,272.0 30.3,273.8 31.0,278.2" fill="none" stroke="#111" stroke-width="1.5" stroke-linejoin="miter"/>
<polyline points="16.5,360.3 16.6,359.2 17.0,358.1 17.4,357.2 17.8,356.3 17.9,355.3 18.5,354.5 18.9,353.6 18.9,352.6 19.3,351.7 19.3,350.7 19.7,349.8 19.9,348.8 20.2,347.9 20.2,347.0 20.1,346.0 20.5,345.1 20.4,344.2 20.5,343.3 21.0,342.4 20.7,341.4 20.9,340.5 20.9,339.6 21.3,338.7 21.6,337.8 21.4,336.8 21.4,335.8 21.5,334.9 21.5,333.9 21.5,333.0 21.8,332.0 21.6,331.1 21.5,330.1 21.8,329.2 21.7,328.2 21.7,327.3 21.7,326.3 22.2,325.4 22.0,324.4 21.8,323.5 22.4,322.6 22.2,321.7 22.3,320.8 22.4,319.9 22.1,319.0 22.2,318.1 22.3,317.2 22.5,316.3 22.1,315.4 22.4,314.5 22.2,313.6 22.6,312.7 22.5,311.8 22.4,310.9 22.9,310.0 22.7,309.0 22.8,308.1 22.7,307.1 23.0,306.2 23.3,305.3 23.4,304.4 23.2,303.5 23.2,302.5 23.4,301.6 23.3,300.7 23.9,299.8 23.9,298.9 24.1,298.0 24.0,297.0 24.3,296.1 24.5,295.2 24.4,294.3 24.8,293.4 24.7,292.4 24.7,291.5 25.2,290.6 25.1,289.6 25.1,288.7 25.6,287.8 25.4,286.8 25.5,285.9 25.5,284.9 25.9,284.0 26.3,283.1 25.9,282.2 25.9,281.2 26.5,280.4 26.5,279.5 26.3,278.5 26.6,277.6 26.6,276.7 26.8,275.8 27.0,274.8 27.0,273.9 27.2,272.9 27.5,272.0 28.1,270.9" fill="none" stroke="#222" stroke-width="1.1" stroke-linejoin="miter" stroke-miterlimit="3"/>
<polyline points="28.1,270.9 29.2,272.0 30.0,272.7 30.3,273.8 30.2,274.9 30.5,276.0 30.7,277.1 31.0,278.2 31.5,279.1 32.5,279.6 32.8,280.6 32.9,281.5 32.8,282.6 33.3,283.5 33.3,284.5 33.2,285.5 33.3,286.6 33.3,287.8 33.9,288.8 34.0,289.9 34.4,290.8 34.5,291.7 34.3,292.6 34.0,293.6 34.7,294.4 34.7,295.4 34.8,296.3 34.7,297.2 34.6,298.1 34.7,299.0 35.2,299.9 35.1,300.8 34.9,301.8 35.2,302.7 35.3,303.6 35.4,304.5 35.2,305.5 35.4,306.4 36.0,307.3 36.0,308.2 35.7,309.2 36.3,310.0 36.2,311.0 36.2,311.9 36.4,312.9 36.4,313.8 36.6,314.7 36.9,315.6 36.9,316.6 37.2,317.5 37.6,318.4 37.7,319.4 37.6,320.4 37.7,321.4 37.7,322.4 37.8,323.4 38.1,324.3 38.4,325.2 38.4,326.2 38.6,327.2 38.5,328.2 38.7,329.1 39.0,330.1 39.3,331.0 39.6,331.9 39.5,332.9 39.8,333.9 39.7,334.9 40.0,335.8 40.2,336.7 40.7,337.5 40.5,338.5 41.0,339.3 41.4,340.1 41.7,341.0 42.2,342.0 41.8,343.1 42.4,344.0 42.9,344.9 42.9,345.9 43.3,346.7 43.6,347.6 44.1,348.4 44.3,349.3 44.4,350.3 45.0,351.0 45.8,351.9 46.7,352.7 47.5,353.5 48.4,352.7 49.6,352.5 49.9,353.4 50.6,354.1 51.4,354.7 52.4,354.9 53.4,355.0 54.2,355.6 55.3,356.2 56.5,356.6 57.2,357.3 58.0,357.8 58.8,358.2 59.7,358.7 60.6,359.2 61.5,359.6 62.5,359.7 63.3,360.2 64.3,360.3 65.2,360.6 66.1,360.3 67.0,360.6" fill="none" stroke="#111" stroke-width="1.5" stroke-linejoin="miter" stroke-miterlimit="3"/>
<text class="sm" font-size="5.6" transform="translate(12.6 241.2) rotate(-90)" text-anchor="middle">80</text>
<text class="sm" font-size="5.6" transform="translate(12.6 360.6) rotate(-90)" text-anchor="middle">0</text>
<text class="sm" font-size="5.4" transform="translate(8.0 301.9) rotate(-90)" text-anchor="middle">Events</text>
<text class="tk" font-size="5.6" x="13.6" y="366.6">10<tspan font-size="3.6" dy="-2">0</tspan></text>
<text class="tk" font-size="5.6" x="38.2" y="366.6">10<tspan font-size="3.6" dy="-2">1</tspan></text>
<text class="tk" font-size="5.6" x="62.8" y="366.6">10<tspan font-size="3.6" dy="-2">2</tspan></text>
<text class="tk" font-size="5.6" x="87.4" y="366.6">10<tspan font-size="3.6" dy="-2">3</tspan></text>
<text class="tk" font-size="5.6" x="112.0" y="366.6">10<tspan font-size="3.6" dy="-2">4</tspan></text>
<text class="tk" font-size="6.1" x="64.8" y="373.2" text-anchor="middle">Fluorescence</text>
<text class="an" x="56.4" y="312.4">WT GPIb&#946;,</text>
<text class="an" x="56.4" y="321.0">WT GPIX</text>
<line x1="46.5" y1="318.0" x2="56.0" y2="310.6" stroke="#000" stroke-width="1.1"/>
<text class="lt" x="127.2" y="235.0">F</text>
<polygon points="148.5,359.8 148.5,359.0 148.9,357.7 153.9,354.4 156.5,352.0 158.8,349.4 160.2,345.5 161.3,341.2 162.9,333.0 164.6,321.4 165.5,315.0 166.2,309.9 167.0,300.0 167.9,291.3 169.0,288.5 170.1,287.7 171.0,288.5 171.5,290.6 173.0,297.2 174.5,306.0 175.6,312.0 176.5,318.6 177.5,325.0 178.7,330.0 181.0,332.8 183.2,333.8 185.3,334.0 186.9,333.5 188.8,335.3 191.5,339.0 194.3,341.8 197.0,345.4 199.8,348.2 202.5,351.8 205.3,354.6 208.0,357.4 210.8,359.2 213.0,359.6 213.0,359.8" fill="#cccccc" stroke="none"/>
<line x1="147.1" y1="240.6" x2="147.1" y2="359.8" stroke="#777" stroke-width="1.2"/>
<line x1="147.1" y1="359.8" x2="245.5" y2="359.8" stroke="#666" stroke-width="1.1"/>
<line x1="145.9" y1="330.0" x2="147.1" y2="330.0" stroke="#444" stroke-width="1"/>
<line x1="145.9" y1="300.2" x2="147.1" y2="300.2" stroke="#444" stroke-width="1"/>
<line x1="145.9" y1="270.4" x2="147.1" y2="270.4" stroke="#444" stroke-width="1"/>
<polyline points="148.5,359.0 148.9,357.7 149.9,357.5 150.5,356.4 151.4,356.0 152.1,355.2 153.3,355.3 153.9,354.4 154.6,353.4 155.7,352.9 156.5,352.0 157.3,351.2 158.2,350.4 158.8,349.4 159.1,348.4 159.4,347.4 159.8,346.4 160.2,345.5 160.1,344.3 160.6,343.3 160.8,342.2 161.3,341.2 161.7,340.3 161.6,339.4 161.5,338.4 161.6,337.5 162.1,336.6 162.8,335.8 162.1,334.7 162.7,333.9 162.9,333.0 163.3,332.1 162.8,331.2 163.6,330.4 163.8,329.5 163.8,328.6 163.4,327.6 164.2,326.8 163.7,325.8 164.3,325.0 164.5,324.1 164.4,323.2 164.7,322.3 164.6,321.4 165.0,320.5 165.1,319.6 164.8,318.6 165.5,317.8 165.4,316.8 165.2,315.9 165.5,315.0 165.3,313.9 166.1,313.0 166.4,312.0 166.4,311.0 166.2,309.9 166.4,309.0 166.6,308.1 166.3,307.2 166.2,306.3 166.9,305.4 166.9,304.5 166.8,303.6 167.1,302.7 166.5,301.8 166.6,300.9 167.0,300.0 166.9,299.0 167.6,298.1 167.2,297.1 167.0,296.1 167.2,295.1 167.3,294.2 168.1,293.3 168.2,292.3 167.9,291.3 167.9,290.2 168.8,289.5 169.0,288.5 170.1,287.7 171.0,288.5 171.5,289.5 171.5,290.6 171.4,291.6 172.1,292.4 171.9,293.5 172.7,294.3 172.5,295.3 172.9,296.2 173.0,297.2 173.5,298.1 173.0,299.2 173.5,300.1 173.5,301.1 174.1,302.0 174.2,303.0 173.8,304.1 174.3,305.0 174.5,306.0 174.3,307.1 174.7,308.0 174.6,309.1 175.4,310.0 175.4,311.0 175.6,312.0 175.4,313.0 176.3,313.8 175.9,314.8 176.5,315.7 176.5,316.7 176.4,317.6 176.5,318.6 176.9,319.5 177.2,320.4 177.3,321.3 176.9,322.3 176.9,323.2 177.3,324.1 177.5,325.0 177.9,326.0 177.8,327.0 178.6,327.9 178.2,329.1 178.7,330.0 179.2,330.7 179.8,331.4 180.4,332.2 181.0,332.8 182.2,333.0 183.2,333.8 184.3,333.9 185.3,334.0 186.9,333.5 187.8,334.4 188.8,335.3 189.4,336.0 189.9,336.8 190.5,337.5 190.9,338.3 191.5,339.0 192.3,339.6 192.6,340.7 193.8,340.9 194.3,341.8 194.8,342.9 195.6,343.6 196.1,344.7 197.0,345.4 197.5,346.3 198.4,346.8 198.8,347.8 199.8,348.2 200.1,349.1 201.1,349.5 201.6,350.3 202.1,350.9 202.5,351.8 203.2,352.5 203.9,353.2 204.6,353.9 205.3,354.6 205.7,355.5 206.7,355.9 207.1,356.9 208.0,357.4 209.0,358.0 209.8,358.7 210.8,359.2 212.0,359.1 213.0,359.6" fill="none" stroke="#111" stroke-width="1.4" stroke-linejoin="miter" stroke-miterlimit="3"/>
<polyline points="157.2,280.0 157.8,275.0 158.6,271.5 159.4,270.1 160.4,271.5 161.3,275.2 162.0,279.6" fill="none" stroke="#111" stroke-width="1.5" stroke-linejoin="miter"/>
<polyline points="147.3,359.5 147.7,358.5 147.7,357.4 148.3,356.5 148.4,355.5 148.7,354.5 148.8,353.5 149.1,352.6 149.3,351.6 149.5,350.6 150.1,349.8 150.2,348.8 150.1,347.8 150.7,347.0 150.5,346.0 150.8,345.1 151.0,344.2 151.2,343.3 151.0,342.3 151.6,341.5 151.6,340.5 151.6,339.6 151.9,338.7 152.0,337.7 151.9,336.8 152.0,335.8 152.0,334.9 152.3,333.9 152.2,333.0 152.5,332.0 152.7,331.1 152.8,330.1 152.7,329.2 152.7,328.2 153.0,327.3 152.8,326.3 153.1,325.3 153.3,324.4 153.1,323.4 153.3,322.5 153.8,321.6 153.3,320.6 153.8,319.7 153.5,318.7 153.7,317.8 153.9,316.9 153.7,315.9 154.0,315.0 153.9,314.1 154.0,313.2 153.9,312.2 154.4,311.3 154.0,310.4 154.2,309.5 154.3,308.5 154.4,307.6 154.3,306.7 154.0,305.8 154.6,304.9 154.6,303.9 154.4,303.0 154.6,302.0 154.4,301.0 154.9,300.1 154.6,299.1 155.2,298.2 154.8,297.2 155.0,296.2 155.3,295.3 155.4,294.3 155.3,293.3 155.7,292.4 155.5,291.5 155.8,290.5 156.2,289.6 156.0,288.6 156.2,287.7 156.6,286.8 156.9,285.9 156.5,284.9 156.9,284.0 157.0,283.1 157.3,282.2 156.9,281.2 157.2,280.3 157.6,279.5 157.3,278.5 157.6,277.6 157.6,276.7 157.9,275.7 157.8,274.6 158.0,273.5 158.2,272.5 158.6,271.5 159.4,270.1" fill="none" stroke="#222" stroke-width="1.1" stroke-linejoin="miter" stroke-miterlimit="3"/>
<polyline points="159.4,270.1 160.4,271.5 160.4,272.5 160.9,273.3 161.4,274.2 161.3,275.2 161.4,276.3 161.8,277.4 161.8,278.5 162.0,279.6 162.2,280.5 162.8,281.3 162.7,282.3 163.2,283.1 163.5,284.0 163.9,284.9 163.9,286.0 164.0,287.0 164.5,287.9 164.9,288.9 165.0,289.9 165.0,290.8 165.2,291.7 165.0,292.7 165.6,293.5 165.4,294.5 165.3,295.4 165.9,296.3 165.7,297.2 165.6,298.1 165.8,299.0 165.9,299.9 165.9,300.9 166.5,301.7 166.5,302.7 166.4,303.6 166.4,304.5 166.2,305.5 166.4,306.4 166.7,307.3 166.9,308.2 166.9,309.2 167.0,310.1 167.1,311.1 167.1,312.0 167.1,313.0 167.7,313.9 168.1,314.8 168.0,315.8 168.1,316.8 168.9,317.6 168.8,318.6 169.1,319.5 168.8,320.5 169.0,321.4 169.2,322.3 169.3,323.2 169.3,324.1 169.5,325.1 170.2,325.9 170.2,326.8 170.3,327.8 170.3,328.7 170.5,329.6 170.6,330.5 171.0,331.3 170.8,332.3 171.3,333.1 171.3,334.0 171.3,335.0 171.7,335.8 172.1,336.7 172.2,337.7 172.4,338.7 172.3,339.7 173.2,340.6 173.1,341.6 173.4,342.5 173.7,343.4 174.1,344.3 174.5,345.2 174.8,346.1 174.9,347.1 175.3,348.0 176.0,348.9 176.9,349.8 177.4,350.9 178.5,351.7 179.6,352.3 180.7,352.6 181.8,352.8 182.4,353.4 183.3,353.8 183.9,354.5 185.1,354.6 186.1,355.3 186.9,355.9 188.1,355.7 188.9,356.4 189.8,357.0 190.9,357.1 191.8,357.6 192.7,358.1 193.8,358.2 194.7,358.6 195.9,358.9 197.0,359.4 198.0,359.2 199.0,359.3 200.0,359.7" fill="none" stroke="#111" stroke-width="1.5" stroke-linejoin="miter" stroke-miterlimit="3"/>
<text class="sm" font-size="5.6" transform="translate(143.5 240.6) rotate(-90)" text-anchor="middle">80</text>
<text class="sm" font-size="5.6" transform="translate(143.5 359.8) rotate(-90)" text-anchor="middle">0</text>
<text class="sm" font-size="5.4" transform="translate(138.9 301.2) rotate(-90)" text-anchor="middle">Events</text>
<text class="tk" font-size="5.6" x="144.5" y="365.8">10<tspan font-size="3.6" dy="-2">0</tspan></text>
<text class="tk" font-size="5.6" x="169.1" y="365.8">10<tspan font-size="3.6" dy="-2">1</tspan></text>
<text class="tk" font-size="5.6" x="193.7" y="365.8">10<tspan font-size="3.6" dy="-2">2</tspan></text>
<text class="tk" font-size="5.6" x="218.3" y="365.8">10<tspan font-size="3.6" dy="-2">3</tspan></text>
<text class="tk" font-size="5.6" x="242.9" y="365.8">10<tspan font-size="3.6" dy="-2">4</tspan></text>
<text class="tk" font-size="6.1" x="195.7" y="372.4" text-anchor="middle">Fluorescence</text>
<text class="an" x="188.8" y="311.1">GPIX22/15GPIb&#946;,</text>
<text class="an" x="191.1" y="319.7">WT GPIX</text>
<line x1="177.8" y1="315.2" x2="187.8" y2="307.8" stroke="#000" stroke-width="1.1"/>
<text class="lt" x="260.4" y="234.8">G</text>
<polygon points="278.3,359.1 278.3,359.0 278.5,355.0 279.1,348.3 280.1,340.2 281.4,333.5 282.4,326.9 283.0,322.0 284.2,314.9 285.4,309.0 286.0,305.4 287.2,304.8 288.4,304.2 289.6,307.2 290.8,305.4 292.0,302.4 293.2,300.0 294.4,301.2 295.6,300.6 296.8,303.0 298.0,304.2 299.1,306.6 299.7,309.0 300.9,312.5 301.5,317.0 302.2,320.0 303.3,325.5 304.3,330.8 305.6,336.2 307.6,340.2 309.7,342.2 311.2,343.5 312.8,344.9 315.3,344.5 317.9,345.7 320.4,347.9 322.6,350.4 324.7,353.4 327.2,356.0 329.8,357.7 333.2,358.5 336.6,358.9 336.6,359.1" fill="#cccccc" stroke="none"/>
<line x1="277.8" y1="240.2" x2="277.8" y2="359.1" stroke="#888" stroke-width="1.2"/>
<line x1="277.8" y1="359.1" x2="376.2" y2="359.1" stroke="#666" stroke-width="1.1"/>
<line x1="276.6" y1="329.4" x2="277.8" y2="329.4" stroke="#444" stroke-width="1"/>
<line x1="276.6" y1="299.6" x2="277.8" y2="299.6" stroke="#444" stroke-width="1"/>
<line x1="276.6" y1="269.9" x2="277.8" y2="269.9" stroke="#444" stroke-width="1"/>
<polyline points="278.3,359.0 278.1,357.7 278.6,356.3 278.5,355.0 277.8,353.8 279.5,352.8 279.3,351.7 279.7,350.6 278.6,349.4 279.1,348.3 278.8,347.1 278.7,345.9 279.0,344.8 278.9,343.6 280.1,342.6 279.7,341.3 280.1,340.2 280.8,339.2 280.9,338.0 280.5,336.8 280.4,335.6 280.9,334.6 281.4,333.5 280.8,332.3 282.0,331.3 281.4,330.1 281.5,329.0 282.8,328.1 282.4,326.9 282.5,325.7 283.4,324.5 283.6,323.3 283.0,322.0 283.5,320.9 283.0,319.6 283.0,318.4 283.4,317.2 284.4,316.1 284.2,314.9 284.5,313.7 284.4,312.5 284.2,311.2 284.9,310.1 285.4,309.0 285.4,307.8 285.1,306.5 286.0,305.4 287.2,304.8 288.4,304.2 289.4,305.6 289.6,307.2 290.8,305.4 291.1,303.8 292.0,302.4 292.5,301.1 293.2,300.0 294.4,301.2 295.6,300.6 296.2,301.8 296.8,303.0 298.0,304.2 298.5,305.4 299.1,306.6 298.9,307.9 299.7,309.0 300.4,310.1 301.1,311.1 300.9,312.5 301.4,313.6 301.7,314.7 301.2,315.9 301.5,317.0 301.9,318.5 302.2,320.0 302.7,321.0 303.3,322.1 302.5,323.4 302.9,324.4 303.3,325.5 303.4,326.9 303.5,328.2 303.5,329.6 304.3,330.8 305.3,331.7 305.3,332.8 305.1,334.0 305.0,335.2 305.6,336.2 306.1,337.2 306.6,338.2 307.4,339.1 307.6,340.2 308.9,340.9 309.7,342.2 311.2,343.5 312.8,344.9 314.1,345.3 315.3,344.5 316.3,345.8 317.9,345.7 318.7,346.4 319.6,347.1 320.4,347.9 321.6,348.3 321.7,349.7 322.6,350.4 323.7,351.1 323.8,352.5 324.7,353.4 325.8,354.0 326.4,355.1 327.2,356.0 328.2,357.3 329.8,357.7 331.0,357.7 332.1,358.3 333.2,358.5 334.4,358.3 335.5,358.7 336.6,358.9" fill="none" stroke="#111" stroke-width="1.6" stroke-linejoin="miter" stroke-miterlimit="3"/>
<polyline points="286.0,312.0 286.0,310.8 286.6,309.6 286.6,308.4 287.8,307.8 289.0,307.2 288.6,308.5 290.6,308.9 290.2,310.2 291.1,309.5 291.4,308.4 292.6,307.7 291.8,306.3 292.6,305.4 292.6,303.9 293.8,303.0 295.0,304.2 296.2,303.6 296.8,304.8 297.4,306.0 298.6,307.2 299.8,308.1 299.7,309.6 300.4,310.7 300.3,312.0" fill="none" stroke="#111" stroke-width="1.2" stroke-linejoin="miter" stroke-miterlimit="3"/>
<polyline points="294.3,301.3 295.5,302.5 296.7,301.9 297.9,302.8 297.9,304.3 299.1,305.5 299.5,306.8 300.2,307.9 300.7,309.1 300.8,310.3 300.6,311.7 301.4,312.7 302.0,313.8 302.1,314.9 301.6,316.1 302.8,317.1 302.6,318.3 302.4,319.9 303.3,321.3 303.6,322.4 303.5,323.6 303.2,324.7 303.7,325.8 304.4,326.8 304.5,328.2 304.4,329.5 305.9,330.6 305.4,332.1 305.8,333.2 305.4,334.4 305.8,335.4 306.5,336.4 306.7,337.5 307.6,338.3 307.9,339.4 308.3,340.4 308.7,341.5 310.2,342.1 310.8,343.5 312.3,344.8 313.9,346.2 315.3,346.7 316.4,345.8 317.6,346.6 319.0,347.0 319.8,347.8 321.0,348.1 321.5,349.2 322.4,349.8 323.1,350.8 323.7,351.7 324.9,352.4 325.3,353.5 325.8,354.7 326.8,355.4 327.2,356.7 328.3,357.3 329.2,358.7 330.9,359.0 332.2,358.5 333.3,359.0 334.3,359.8 335.4,360.5 336.7,359.3 337.7,360.2" fill="none" stroke="#111" stroke-width="1.4" stroke-linejoin="miter" stroke-miterlimit="3"/>
<text class="sm" font-size="5.6" transform="translate(274.2 240.2) rotate(-90)" text-anchor="middle">80</text>
<text class="sm" font-size="5.6" transform="translate(274.2 359.1) rotate(-90)" text-anchor="middle">0</text>
<text class="sm" font-size="5.4" transform="translate(269.6 300.6) rotate(-90)" text-anchor="middle">Events</text>
<text class="tk" font-size="5.6" x="275.2" y="365.1">10<tspan font-size="3.6" dy="-2">0</tspan></text>
<text class="tk" font-size="5.6" x="299.8" y="365.1">10<tspan font-size="3.6" dy="-2">1</tspan></text>
<text class="tk" font-size="5.6" x="324.4" y="365.1">10<tspan font-size="3.6" dy="-2">2</tspan></text>
<text class="tk" font-size="5.6" x="349.0" y="365.1">10<tspan font-size="3.6" dy="-2">3</tspan></text>
<text class="tk" font-size="5.6" x="373.6" y="365.1">10<tspan font-size="3.6" dy="-2">4</tspan></text>
<text class="tk" font-size="6.1" x="326.4" y="371.7" text-anchor="middle">Fluorescence</text>
<text class="an" x="315.9" y="310.9">GPIX36/32GPIb&#946;,</text>
<text class="an" x="317.7" y="319.5">WT GPIX</text>
<line x1="305.4" y1="314.3" x2="314.7" y2="307.8" stroke="#000" stroke-width="1.1"/>
<text class="lt" x="393.2" y="235.0">H</text>
<polygon points="413.3,358.2 413.3,358.1 413.5,355.0 414.1,348.3 415.4,340.2 416.7,333.5 418.1,326.7 418.8,319.0 420.0,309.0 421.2,304.2 422.4,304.8 423.6,301.8 425.4,298.8 426.6,301.8 427.8,304.2 429.0,300.6 430.2,298.8 431.4,301.8 432.6,302.4 433.7,306.0 434.9,310.1 436.1,314.9 437.5,320.0 439.0,325.5 440.3,330.8 441.3,334.8 443.0,338.8 445.0,340.2 447.0,340.9 449.0,341.5 451.1,342.2 453.1,341.5 455.1,342.9 456.5,344.9 457.8,347.6 459.8,351.0 461.8,353.6 464.5,355.7 467.9,357.0 471.3,357.7 471.3,358.2" fill="#cccccc" stroke="none"/>
<line x1="413.0" y1="238.2" x2="413.0" y2="358.2" stroke="#808080" stroke-width="1.2"/>
<line x1="413.0" y1="358.2" x2="511.4" y2="358.2" stroke="#666" stroke-width="1.1"/>
<line x1="411.8" y1="328.2" x2="413.0" y2="328.2" stroke="#444" stroke-width="1"/>
<line x1="411.8" y1="298.2" x2="413.0" y2="298.2" stroke="#444" stroke-width="1"/>
<line x1="411.8" y1="268.2" x2="413.0" y2="268.2" stroke="#444" stroke-width="1"/>
<polyline points="413.3,358.1 412.7,356.5 413.5,355.0 413.8,353.9 414.5,352.8 413.6,351.6 414.0,350.5 413.8,349.4 414.1,348.3 414.7,347.2 414.8,346.0 414.8,344.9 415.6,343.8 415.3,342.6 415.0,341.3 415.4,340.2 415.4,339.0 416.0,338.0 416.4,336.9 415.8,335.6 417.0,334.7 416.7,333.5 416.9,332.3 417.6,331.3 416.8,330.0 417.3,328.9 417.1,327.7 418.1,326.7 418.1,325.6 417.9,324.5 418.2,323.4 418.1,322.3 419.2,321.3 418.9,320.1 418.8,319.0 418.7,317.9 419.1,316.8 418.7,315.6 420.0,314.6 420.1,313.5 419.7,312.3 419.2,311.2 420.6,310.2 420.0,309.0 419.9,307.7 419.9,306.4 420.8,305.4 421.2,304.2 422.4,304.8 422.8,303.2 423.6,301.8 424.7,301.1 424.3,299.5 425.4,298.8 426.7,300.0 426.6,301.8 427.3,303.0 427.8,304.2 427.5,302.8 428.8,301.9 429.0,300.6 430.2,298.8 430.8,300.3 431.4,301.8 432.6,302.4 432.4,303.8 432.7,305.0 433.7,306.0 434.5,307.2 434.1,308.9 434.9,310.1 435.2,311.3 434.8,312.7 436.5,313.5 436.1,314.9 436.5,316.2 436.1,317.7 437.8,318.5 437.5,320.0 438.1,321.0 438.4,322.1 438.6,323.2 437.9,324.6 439.0,325.5 439.8,326.7 439.1,328.3 440.3,329.4 440.3,330.8 440.1,332.3 441.5,333.3 441.3,334.8 442.5,335.9 441.7,337.8 443.0,338.8 444.4,338.9 445.0,340.2 447.0,340.9 449.0,341.5 450.0,342.1 451.1,342.2 453.1,341.5 454.4,341.8 455.1,342.9 455.7,344.0 456.5,344.9 457.4,346.1 457.8,347.6 458.3,348.8 458.9,350.0 459.8,351.0 460.5,352.5 461.8,353.6 463.1,353.8 463.3,355.4 464.5,355.7 465.8,355.7 466.7,356.7 467.9,357.0 468.9,357.7 470.1,357.9 471.3,357.7" fill="none" stroke="#111" stroke-width="1.6" stroke-linejoin="miter" stroke-miterlimit="3"/>
<polyline points="420.6,312.0 420.2,310.6 420.8,309.5 420.9,308.2 421.8,307.2 423.0,307.8 422.7,306.5 424.3,306.0 424.2,304.8 424.9,303.9 425.2,302.7 426.0,301.8 427.1,302.5 426.3,304.0 427.2,304.8 428.3,305.7 428.4,307.2 428.2,305.8 429.0,304.7 429.6,303.6 429.7,302.4 430.8,301.8 431.4,302.7 431.6,303.8 432.0,304.8 433.2,305.4 432.7,306.9 434.1,307.8 434.3,309.0 434.4,310.1 435.5,310.9 435.6,312.0 435.5,313.1" fill="none" stroke="#111" stroke-width="1.2" stroke-linejoin="miter" stroke-miterlimit="3"/>
<polyline points="428.9,306.0 429.3,304.8 429.8,303.6 430.1,302.4 431.3,300.6 432.2,302.0 432.5,303.6 433.7,304.2 433.4,305.6 434.1,306.7 434.8,307.8 434.8,309.3 435.7,310.5 436.0,311.9 435.8,313.2 436.2,314.4 436.8,315.5 437.2,316.7 438.2,317.8 438.0,319.2 437.5,320.7 438.6,321.8 438.8,322.9 439.4,323.9 439.3,325.2 440.4,326.0 440.1,327.3 440.7,328.6 440.3,330.1 441.1,331.3 441.4,332.6 441.9,333.9 441.3,335.5 442.4,336.6 442.9,337.9 443.6,339.2 444.1,340.6 445.5,340.8 446.1,342.0 448.1,342.7 450.1,343.3 451.1,343.8 452.2,344.0 454.2,343.3 455.2,344.0 456.2,344.7 457.2,345.5 457.6,346.7 457.6,348.3 458.9,349.4 459.4,350.6 460.2,351.7 460.9,352.8 461.4,354.5 462.9,355.4 463.9,356.0 464.2,357.4 465.6,357.5 466.6,358.2 467.9,358.2 469.0,358.8 470.1,359.0 471.1,360.0 472.4,359.5" fill="none" stroke="#111" stroke-width="1.4" stroke-linejoin="miter" stroke-miterlimit="3"/>
<text class="sm" font-size="5.6" transform="translate(409.4 238.2) rotate(-90)" text-anchor="middle">80</text>
<text class="sm" font-size="5.6" transform="translate(409.4 358.2) rotate(-90)" text-anchor="middle">0</text>
<text class="sm" font-size="5.4" transform="translate(404.8 299.2) rotate(-90)" text-anchor="middle">Events</text>
<text class="tk" font-size="5.6" x="410.4" y="364.2">10<tspan font-size="3.6" dy="-2">0</tspan></text>
<text class="tk" font-size="5.6" x="435.0" y="364.2">10<tspan font-size="3.6" dy="-2">1</tspan></text>
<text class="tk" font-size="5.6" x="459.6" y="364.2">10<tspan font-size="3.6" dy="-2">2</tspan></text>
<text class="tk" font-size="5.6" x="484.2" y="364.2">10<tspan font-size="3.6" dy="-2">3</tspan></text>
<text class="tk" font-size="5.6" x="508.8" y="364.2">10<tspan font-size="3.6" dy="-2">4</tspan></text>
<text class="tk" font-size="6.1" x="461.6" y="370.9" text-anchor="middle">Fluorescence</text>
<text class="an" x="449.3" y="310.6">GPIX53/49GPIb&#946;,</text>
<text class="an" x="451.1" y="319.2">WT GPIX</text>
<line x1="439.1" y1="314.3" x2="448.7" y2="306.6" stroke="#000" stroke-width="1.1"/>
</svg>
</body></html>
